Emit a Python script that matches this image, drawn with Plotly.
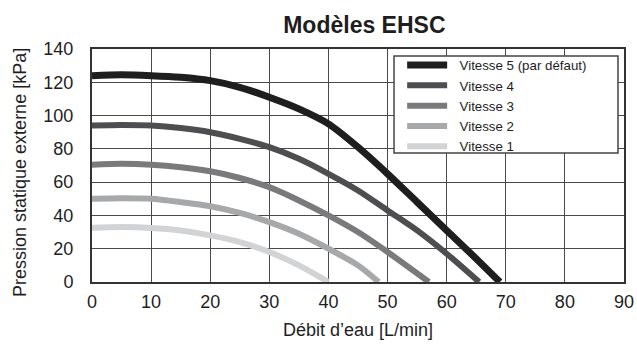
import plotly.graph_objects as go

FONT = "Liberation Sans, Arial, sans-serif"
INK = "rgb(30,30,30)"

names = ["Vitesse 5 (par défaut)", "Vitesse 4", "Vitesse 3", "Vitesse 2", "Vitesse 1"]
colors = ["#1e1e1e", "#4e4e50", "#7a7a7c", "#a7a8aa", "#d2d3d5"]
widths = [7, 6, 6, 6, 6]

# débit [L/min] / pression [kPa]
flow_v5 = [0, 5, 10, 15, 20, 25, 30, 35, 40, 45, 50, 55, 60, 65, 69]
press_v5 = [124, 124.5, 124, 123, 121, 117, 111, 104, 95, 81, 65, 48, 31, 14, 0]
flow_v4 = [0, 5, 10, 15, 20, 25, 30, 35, 40, 45, 50, 55, 60, 65.5]
press_v4 = [94, 94.3, 94, 92.5, 90, 86, 81, 74, 65, 55, 43, 31, 17, 0]
flow_v3 = [0, 5, 10, 15, 20, 25, 30, 35, 40, 45, 50, 57]
press_v3 = [70.5, 71, 70.5, 69, 66.5, 62.5, 57, 49, 40, 30, 18, 0]
flow_v2 = [0, 5, 10, 15, 20, 25, 30, 35, 40, 45, 48.5]
press_v2 = [50, 50.3, 50, 48, 45.5, 41.5, 36, 29, 20, 10, 0]
flow_v1 = [0, 5, 10, 15, 20, 25, 30, 35, 40]
press_v1 = [32.6, 33, 32.5, 31, 28, 24, 18, 10, 0]

flows = [flow_v5, flow_v4, flow_v3, flow_v2, flow_v1]
pressures = [press_v5, press_v4, press_v3, press_v2, press_v1]

x_ticks = list(range(0, 91, 10))
y_ticks = list(range(0, 141, 20))

fig = go.Figure()
for name, c, w, fx, py in zip(names, colors, widths, flows, pressures):
    # two nbsp give the wider gap between legend line and label
    fig.add_trace(go.Scatter(x=fx, y=py, name="\u00a0\u00a0" + name, mode="lines",
                             line=dict(color=c, width=w, shape="spline", smoothing=0.8)))

fig.update_layout(
    template="simple_white",
    width=637, height=345,
    margin=dict(l=92, r=13, t=49, b=63),
    paper_bgcolor="white", plot_bgcolor="white",
    font=dict(family=FONT, size=18, color=INK),
    title=dict(text="<b>Modèles EHSC</b>", x=0.572, xanchor="center", y=0.927, yanchor="middle",
               font=dict(family=FONT, size=23, color=INK)),
    legend=dict(x=0.583, y=0.996, xanchor="left", yanchor="top",
                bgcolor="rgba(0,0,0,0)", borderwidth=0,
                font=dict(family=FONT, size=13.3, color=INK),
                tracegroupgap=0, itemwidth=40),
    # wider legend frame, like the reference
    shapes=[dict(type="rect", xref="paper", yref="paper", x0=0.5677, x1=0.9887,
                 y0=0.5536, y1=0.970, layer="above", fillcolor="rgb(255,255,255)",
                 opacity=1, line=dict(color="#444", width=1.5))],
    annotations=[
        dict(text="Débit d’eau [L/min]", xref="paper", yref="paper", x=0.5, y=-0.204,
             xanchor="center", yanchor="middle", showarrow=False,
             font=dict(family=FONT, size=18, color=INK)),
        dict(text="Pression statique externe [kPa]", xref="paper", yref="paper",
             x=-0.134, y=0.471, xanchor="center", yanchor="middle", textangle=-90,
             showarrow=False, font=dict(family=FONT, size=18, color=INK)),
    ],
)

fig.update_xaxes(range=[0, 90], tickvals=x_ticks, showgrid=True, gridcolor="#4a4a4a", gridwidth=1.2,
                 showline=True, linecolor="#333", linewidth=2, mirror=True, ticks="",
                 ticklabelstandoff=2, zeroline=False, automargin=False)
fig.update_yaxes(range=[0, 140], tickvals=y_ticks, showgrid=True, gridcolor="#4a4a4a", gridwidth=1.2,
                 showline=True, linecolor="#333", linewidth=2, mirror=True, ticks="",
                 ticklabelstandoff=13, zeroline=False, automargin=False)

# page body has an 8px default margin; drop it so the figure sits at 0,0
fig.write_html("out.html", config={"displayModeBar": False},
               post_script="document.body.style.margin='0';")
